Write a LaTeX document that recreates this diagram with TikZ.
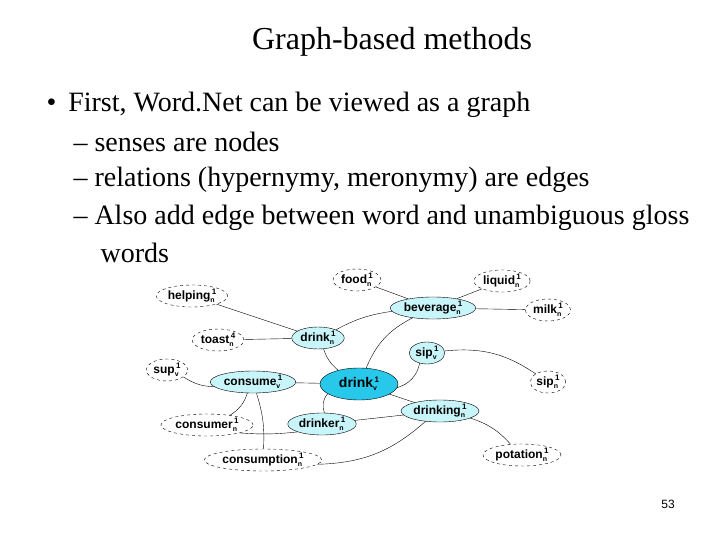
\documentclass[tikz,border=0pt]{standalone}
\usepackage{fontspec}
\setmainfont{Liberation Serif}
\newfontfamily\nsans{Liberation Sans}
\usetikzlibrary{shapes.geometric}
\definecolor{lc}{RGB}{200,245,250}
\definecolor{dc}{RGB}{40,200,235}
\newcommand{\sbsp}[2]{\rlap{\raisebox{-3pt}{\fontsize{7}{7}\selectfont #1}}\raisebox{5pt}{\fontsize{8}{8}\selectfont\,#2}}
\begin{document}
\begin{tikzpicture}[x=1pt,y=-1pt,
 wn/.style={ellipse,draw,dashed,inner xsep=1pt,inner ysep=0pt,font=\nsans\bfseries\fontsize{12}{13}\selectfont,minimum height=22},
 cn/.style={ellipse,draw,fill=lc,inner xsep=1pt,inner ysep=0pt,font=\nsans\bfseries\fontsize{12}{13}\selectfont,minimum height=22},
 ed/.style={thin}]
\useasboundingbox (0,0) rectangle (720,540);
\node[font=\fontsize{32}{36}\selectfont] (title) at (392,42) {Graph-based methods};
\begin{scope}[every node/.style={anchor=west,font=\fontsize{28}{31}\selectfont}]
\node (b1) at (43,105) {•\hspace{12pt}First, Word.Net can be viewed as a graph};
\node (b2) at (70,142) {– senses are nodes};
\node (b3) at (70,180) {– relations (hypernymy, meronymy) are edges};
\node (b4) at (70,218) {– Also add edge between word and unambiguous gloss};
\node (b5) at (97,253) {words};
\end{scope}
\node[wn] (food) at (357,280) {food\sbsp{n}{1}};
\node[wn] (liquid) at (502,281) {liquid\sbsp{n}{1}};
\node[wn] (helping) at (192,296) {helping\sbsp{n}{1}};
\node[cn] (beverage) at (433,308) {beverage\sbsp{n}{1}};
\node[wn] (milk) at (548,310) {milk\sbsp{n}{1}};
\node[wn] (toast) at (218,340) {toast\sbsp{n}{4}};
\node[cn] (drinkn) at (318,338) {drink\sbsp{n}{1}};
\node[cn] (sipv) at (427,353) {sip\sbsp{v}{1}};
\node[wn] (sup) at (167,370) {sup\sbsp{v}{1}};
\node[cn] (consume) at (253,382) {consume\sbsp{v}{1}};
\node[ellipse,draw,fill=dc,inner sep=1pt,minimum width=78,minimum height=32,font=\nsans\bfseries\fontsize{14}{15}\selectfont] (drinkv) at (359,384) {drink\sbsp{v}{1}};
\node[wn] (sipn) at (548,382) {sip\sbsp{n}{1}};
\node[cn] (drinking) at (440,411) {drinking\sbsp{n}{1}};
\node[wn] (consumer) at (207,425) {consumer\sbsp{n}{1}};
\node[cn] (drinker) at (322,424) {drinker\sbsp{n}{1}};
\node[wn] (consumption) at (263,460) {consumption\sbsp{n}{1}};
\node[wn] (potation) at (522,455) {potation\sbsp{n}{1}};
\draw[ed] (beverage) -- (food);
\draw[ed] (beverage) -- (liquid);
\draw[ed] (beverage) -- (milk);
\draw[ed] (drinkn) to[bend left=10] (beverage);
\draw[ed] (drinkn) -- (helping);
\draw[ed] (drinkn) -- (toast);
\draw[ed] (drinkv) to[bend left=15] (drinkn);
\draw[ed] (drinkv) to[bend left=20] (beverage);
\draw[ed] (drinkv) to[bend right=30] (sipv);
\draw[ed] (sipv) to[bend left=20] (sipn);
\draw[ed] (drinkv) -- (consume);
\draw[ed] (drinkv) -- (drinking);
\draw[ed] (drinkv) to[bend right=30] (drinker);
\draw[ed] (consume) to[bend left=15] (sup);
\draw[ed] (consume) to[bend left=20] (consumer);
\draw[ed] (consume) to[bend left=10] (consumption);
\draw[ed] (drinking) -- (drinker);
\draw[ed] (drinking) to[bend left=20] (consumption);
\draw[ed] (drinking) to[bend left=15] (potation);
\draw[ed] (drinker.south west) to[bend left=5] (consumer.south east);
\node[font=\nsans\fontsize{12}{14}\selectfont] (pg) at (668,504) {53};
\end{tikzpicture}
\end{document}
